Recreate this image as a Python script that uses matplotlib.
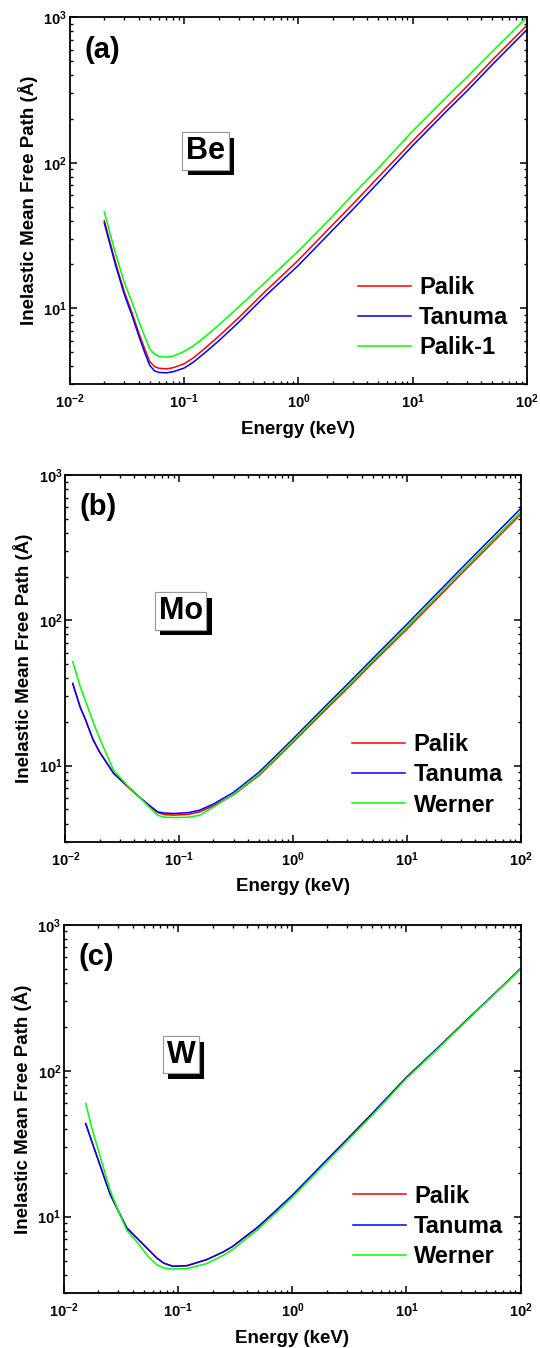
import matplotlib
matplotlib.use('Agg')
import matplotlib.pyplot as plt
import matplotlib.patheffects as pe

plt.rcParams['font.family'] = ['Liberation Sans', 'DejaVu Sans']
plt.rcParams['font.weight'] = 'bold'
plt.rcParams['axes.labelweight'] = 'bold'

# energies in keV, IMFP in Angstrom
e_be = [0.02, 0.025, 0.03, 0.035, 0.04, 0.045, 0.05, 0.055, 0.06, 0.07, 0.08, 0.1, 0.12,
        0.15, 0.2, 0.3, 0.5, 0.7, 1, 2, 3, 5, 10, 20, 30, 50, 100]
be_palik = [40, 20.8, 12.9, 9.3, 6.8, 5.3, 4.3, 3.98, 3.87, 3.83, 3.9, 4.15, 4.55,
            5.25, 6.4, 8.6, 12.8, 16.4, 21.4, 37.5, 52, 79.5, 141, 245, 336, 510, 880]
be_tanuma = [38.6, 20.0, 12.4, 8.9, 6.5, 5.0, 4.05, 3.72, 3.62, 3.6, 3.66, 3.88, 4.25,
             4.9, 5.95, 8.0, 11.9, 15.2, 19.7, 34.5, 47.8, 73, 131, 228, 312, 474, 820]
be_palik1 = [46, 24, 15, 11.0, 8.2, 6.45, 5.25, 4.85, 4.67, 4.62, 4.68, 5.05, 5.5,
             6.3, 7.65, 10.2, 14.8, 19.0, 24.7, 43, 60.5, 91.6, 165, 285, 388, 583, 1000]

e_mo = [0.0116, 0.0135, 0.015, 0.0175, 0.02, 0.0265, 0.035, 0.045, 0.055, 0.065, 0.075,
        0.09, 0.12, 0.15, 0.2, 0.3, 0.5, 0.7, 1, 2, 3, 5, 10, 20, 30, 50, 100]
mo_palik = [36.8, 25.2, 20.8, 15.1, 12.4, 8.87, 7.2, 6.05, 5.3, 4.75, 4.6,
            4.57, 4.62, 4.8, 5.3, 6.3, 8.55, 11.0, 14.5, 24.9, 34, 51, 87, 151, 209, 312, 537]
mo_tanuma = [36.8, 25.2, 20.8, 15.1, 12.4, 8.87, 7.25, 6.05, 5.3, 4.8, 4.72,
             4.69, 4.75, 4.93, 5.45, 6.55, 9.0, 11.6, 15.3, 26.5, 36.3, 54.5, 94, 164, 227, 340, 587]
mo_werner = [51.9, 35, 28, 20, 15.4, 9.3, 7.3, 6.05, 5.15, 4.55, 4.42,
             4.4, 4.42, 4.55, 5.2, 6.35, 8.7, 11.2, 14.8, 25.6, 35, 52.5, 90, 157, 217, 324, 557]

e_w = [0.0155, 0.018, 0.02, 0.0253, 0.03, 0.0354, 0.045, 0.055, 0.065, 0.075, 0.09, 0.12,
       0.178, 0.25, 0.3, 0.5, 0.7, 1, 2, 3, 5, 10, 20, 30, 50, 100]
w_palik = [43.4, 30.8, 24.3, 14.3, 10.9, 8.4, 6.95, 5.94, 5.21, 4.8, 4.57, 4.62,
           5.08, 5.75, 6.25, 8.5, 10.8, 14.0, 24.4, 33.7, 50.8, 90, 150, 204, 298, 500]
w_tanuma = [43.4, 30.8, 24.3, 14.3, 10.9, 8.4, 6.95, 5.94, 5.21, 4.8, 4.57, 4.62,
            5.08, 5.75, 6.25, 8.5, 10.8, 14.0, 24.4, 33.7, 50.8, 90, 150, 204, 298, 500]
w_werner = [59.6, 37.5, 28.5, 15.2, 10.9, 8.1, 6.5, 5.3, 4.69, 4.45, 4.38, 4.42,
            4.77, 5.45, 5.95, 8.2, 10.45, 13.6, 23.7, 32.8, 49.5, 88.5, 148, 202, 296, 497]

panels = [
    dict(rect=[0.1294, 0.7149, 0.8463, 0.2723], e=e_be,
         ys=[be_palik, be_tanuma, be_palik1], names=['Palik', 'Tanuma', 'Palik-1'],
         tag='(a)', elem='Be', elem_xy=(0.297, 0.636), leg_xy=(0.630, 0.181)),
    dict(rect=[0.1211, 0.3756, 0.8431, 0.2720], e=e_mo,
         ys=[mo_palik, mo_tanuma, mo_werner], names=['Palik', 'Tanuma', 'Werner'],
         tag='(b)', elem='Mo', elem_xy=(0.253, 0.629), leg_xy=(0.630, 0.182)),
    dict(rect=[0.1185, 0.0408, 0.8457, 0.2732], e=e_w,
         ys=[w_palik, w_tanuma, w_werner], names=['Palik', 'Tanuma', 'Werner'],
         tag='(c)', elem='W', elem_xy=(0.256, 0.647), leg_xy=(0.632, 0.181)),
]
colors = ['#ff0000', '#0000ff', '#00ff00']

fig = plt.figure(figsize=(5.4, 13.48), dpi=100)

for p in panels:
    ax = fig.add_axes(p['rect'])
    for y, c, n in zip(p['ys'], colors, p['names']):
        ax.plot(p['e'], y, color=c, lw=1.1, label=n)
    ax.set_xscale('log')
    ax.set_yscale('log')
    ax.set_xlim(1e-2, 1e2)
    ax.set_ylim(3, 1e3)
    ax.set_xticks([1e-2, 1e-1, 1e0, 1e1, 1e2])
    ax.set_yticks([1e1, 1e2, 1e3])
    for s in ax.spines.values():
        s.set_linewidth(1.3)
    ax.tick_params(which='both', direction='in', top=True, right=True)
    ax.tick_params(which='major', length=5, width=1.1, labelsize=10.5)
    ax.tick_params(which='minor', length=2.5, width=1.0)
    ax.tick_params(axis='x', pad=6)
    ax.tick_params(axis='y', pad=2)
    ax.set_xlabel('Energy (keV)', fontsize=13.5, labelpad=7)
    ax.set_ylabel('Inelastic Mean Free Path (Å)', fontsize=13.5, labelpad=4)

    ax.text(0.032, 0.912, p['tag'], transform=ax.transAxes, fontsize=21,
            fontweight='bold', ha='left', va='center')
    t = ax.text(p['elem_xy'][0], p['elem_xy'][1], p['elem'], transform=ax.transAxes,
                fontsize=22, fontweight='bold', ha='center', va='center',
                bbox=dict(boxstyle='square,pad=0.12', fc='white', ec='#999999', lw=0.8))
    t.get_bbox_patch().set_path_effects(
        [pe.withSimplePatchShadow(offset=(4, -4), shadow_rgbFace='black', alpha=1.0),
         pe.Normal()])

    ax.legend(loc='center left', bbox_to_anchor=p['leg_xy'], frameon=False,
              prop={'size': 17, 'weight': 'bold'}, handlelength=2.25,
              handletextpad=0.35, labelspacing=0.3, borderaxespad=0, borderpad=0)

fig.savefig('out.png', dpi=100)
